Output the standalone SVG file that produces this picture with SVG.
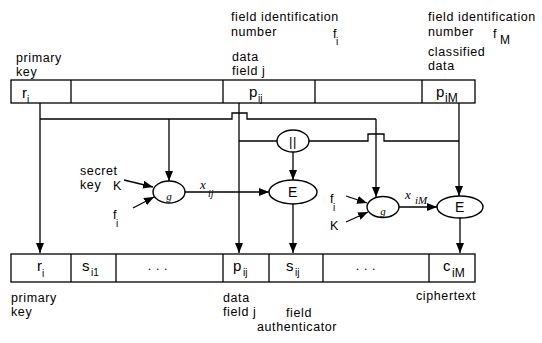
<svg xmlns="http://www.w3.org/2000/svg" width="542" height="343" viewBox="0 0 542 343">
<defs>
<marker id="ah" markerWidth="10" markerHeight="8" refX="10" refY="4" orient="auto" markerUnits="userSpaceOnUse">
<path d="M0,0 L10,4 L0,8 Z" fill="#000"/>
</marker>
<style>
.t{font-family:"Liberation Sans",Arial,sans-serif;font-size:12.5px;letter-spacing:0.6px;fill:#000}
.s{font-family:"Liberation Sans",Arial,sans-serif;font-size:10px;fill:#000}
.v{font-family:"Liberation Sans",Arial,sans-serif;font-size:15px;fill:#000}
.it{font-family:"Liberation Serif","Times New Roman",serif;font-style:italic;fill:#000}
.box{fill:#fff;stroke:#000;stroke-width:1.3}
.ln{fill:none;stroke:#000;stroke-width:1.3}
.ar{fill:none;stroke:#000;stroke-width:1.3;marker-end:url(#ah)}
.nd{fill:#fff;stroke:#000;stroke-width:1.4}
</style>
</defs>
<rect width="542" height="343" fill="#fff"/>

<g id="labels-top">
<text class="t" x="231" y="21">field identification</text>
<text class="t" x="231" y="36">number</text>
<text class="t" x="333" y="38">f</text><text class="s" x="336" y="45">i</text>
<text class="t" x="428" y="21">field identification</text>
<text class="t" x="428" y="36">number</text>
<text class="t" x="493" y="38">f</text><text class="t" x="500" y="44" style="font-size:12px">M</text>
<text class="t" x="16" y="62">primary</text>
<text class="t" x="16" y="76">key</text>
<text class="t" x="232" y="61">data</text>
<text class="t" x="232" y="75">field j</text>
<text class="t" x="428" y="56">classified</text>
<text class="t" x="428" y="70">data</text>
</g>

<g id="record-top">
<rect class="box" x="11" y="80" width="464" height="23"/>
<line class="ln" x1="71" y1="80" x2="71" y2="103"/>
<line class="ln" x1="223" y1="80" x2="223" y2="103"/>
<line class="ln" x1="315" y1="80" x2="315" y2="103"/>
<line class="ln" x1="422" y1="80" x2="422" y2="103"/>
<text class="v" x="22" y="98">r</text><text class="s" x="27" y="103">i</text>
<text class="v" x="249" y="97">p</text><text class="s" x="258" y="102">ij</text>
<text class="v" x="436" y="97">p</text><text class="s" x="445" y="102" style="font-size:12px">iM</text>
</g>

<g id="connectors">
<line class="ar" x1="40" y1="103" x2="40" y2="253"/>
<path class="ln" d="M40,119 H232 V113 H247 V119 H376"/>
<line class="ar" x1="376" y1="119" x2="376" y2="197"/>
<line class="ar" x1="169" y1="119" x2="169" y2="181"/>
<line class="ar" x1="239" y1="103" x2="239" y2="253"/>
<line class="ln" x1="239" y1="141" x2="277" y2="141"/>
<path class="ln" d="M309,141 H368 V134 H384 V141 H459"/>
<line class="ar" x1="459" y1="103" x2="459" y2="196"/>
<line class="ar" x1="293" y1="152" x2="293" y2="180"/>
<line class="ar" x1="185" y1="192" x2="269" y2="192"/>
<line class="ar" x1="293" y1="204" x2="293" y2="253"/>
<line class="ar" x1="399" y1="207" x2="437" y2="207"/>
<line class="ar" x1="460" y1="218" x2="460" y2="253"/>
<line class="ar" x1="124" y1="180" x2="153" y2="187"/>
<line class="ar" x1="133" y1="208" x2="154" y2="197"/>
<line class="ar" x1="346" y1="196" x2="367" y2="203"/>
<line class="ar" x1="346" y1="222" x2="368" y2="212"/>
</g>

<g id="inputs-g1">
<text class="t" x="80" y="175">secret</text>
<text class="t" x="80" y="189">key</text>
<text class="t" x="113" y="190">K</text>
<text class="t" x="113" y="219">f</text><text class="s" x="116" y="227">i</text>
</g>
<g id="inputs-g2">
<text class="t" x="330" y="203">f</text><text class="s" x="333" y="211">i</text>
<text class="t" x="330" y="230">K</text>
</g>

<g id="node-g1">
<ellipse class="nd" cx="169" cy="192" rx="16" ry="11"/>
<text class="it" x="169" y="200" text-anchor="middle" style="font-size:11px">g</text>
</g>
<g id="node-concat">
<ellipse class="nd" cx="293" cy="141" rx="16" ry="11"/>
<text class="t" x="293" y="146" text-anchor="middle" style="font-size:13px">||</text>
</g>
<g id="node-E1">
<ellipse class="nd" cx="293" cy="192" rx="24" ry="12"/>
<text class="t" x="293" y="197" text-anchor="middle" style="font-size:14px">E</text>
</g>
<g id="node-g2">
<ellipse class="nd" cx="383" cy="207" rx="16" ry="10.5"/>
<text class="it" x="383" y="215" text-anchor="middle" style="font-size:11px">g</text>
</g>
<g id="node-E2">
<ellipse class="nd" cx="460" cy="207" rx="23" ry="11"/>
<text class="t" x="460" y="212" text-anchor="middle" style="font-size:14px">E</text>
</g>

<g id="edge-labels">
<text class="it" x="200" y="189" style="font-size:13px">x</text><text class="it" x="208" y="197" style="font-size:10px">ij</text>
<text class="it" x="405" y="199" style="font-size:13px">x</text><text class="it" x="415" y="204" style="font-size:11px">iM</text>
</g>

<g id="record-bottom">
<rect class="box" x="11" y="254" width="464" height="28"/>
<line class="ln" x1="71" y1="254" x2="71" y2="282"/>
<line class="ln" x1="116" y1="254" x2="116" y2="282"/>
<line class="ln" x1="223" y1="254" x2="223" y2="282"/>
<line class="ln" x1="269" y1="254" x2="269" y2="282"/>
<line class="ln" x1="323" y1="254" x2="323" y2="282"/>
<line class="ln" x1="429" y1="254" x2="429" y2="282"/>
<text class="v" x="37" y="271">r</text><text class="s" x="42" y="277">i</text>
<text class="v" x="82" y="271">s</text><text class="s" x="91" y="276">i1</text>
<text class="t" x="158" y="270" text-anchor="middle">. . .</text>
<text class="v" x="233" y="271">p</text><text class="s" x="243" y="276">ij</text>
<text class="v" x="286" y="271">s</text><text class="s" x="295" y="276">ij</text>
<text class="t" x="366" y="270" text-anchor="middle">. . .</text>
<text class="v" x="443" y="271">c</text><text class="s" x="452" y="277" style="font-size:12px">iM</text>
</g>

<g id="labels-bottom">
<text class="t" x="11" y="302">primary</text>
<text class="t" x="11" y="316">key</text>
<text class="t" x="223" y="302">data</text>
<text class="t" x="223" y="316">field j</text>
<text class="t" x="286" y="317">field</text>
<text class="t" x="257" y="331">authenticator</text>
<text class="t" x="416" y="300">ciphertext</text>
</g>
</svg>
